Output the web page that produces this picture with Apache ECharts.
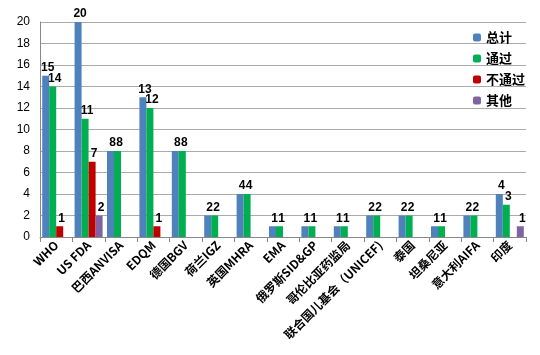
<!DOCTYPE html>
<html><head><meta charset="utf-8">
<script src="https://cdn.jsdelivr.net/npm/echarts@6/dist/echarts.min.js"></script>
<style>html,body{margin:0;padding:0;background:#fff}#c{width:540px;height:355px}</style>
</head><body><div id="c"></div>
<script>
const categories = ['WHO','US FDA','巴西ANVISA','EDQM','德国BGV','荷兰IGZ','英国MHRA','EMA','俄罗斯SID&GP','哥伦比亚药监局','联合国儿基会（UNICEF)','泰国','坦桑尼亚','意大利AIFA','印度'];
const total  = [15,20,8,13,8,2,4,1,1,1,2,2,1,2,4];
const passed = [14,11,8,12,8,2,4,1,1,1,2,2,1,2,3];
const failed = [1,7,0,1,0,0,0,0,0,0,0,0,0,0,0];
const other  = [0,2,0,0,0,0,0,0,0,0,0,0,0,0,1];
const yTicks = {min:0, max:20, interval:2};

const chart = echarts.init(document.getElementById('c'));
const lbl = {show:true, position:'top', distance:2, offset:[2,0], color:'#000', fontWeight:'bold', fontSize:12,
  fontFamily:'Liberation Sans, Arial, sans-serif', formatter:p => p.value === 0 ? '' : p.value};
function s(name, data, color){
  return {name, type:'bar', data, barWidth:7, barGap:'0%', itemStyle:{color}, label:lbl};
}
chart.setOption({
  animation:false,
  grid:{left:40, right:14, top:22, bottom:118},
  legend:{orient:'vertical', right:10, top:26, itemWidth:8, itemHeight:8, itemGap:8,
    textStyle:{fontSize:13, fontWeight:'bold', color:'#000', fontFamily:'Noto Sans CJK SC'},
    data:['总计','通过','不通过','其他']},
  xAxis:{type:'category', data:categories,
    axisLine:{lineStyle:{color:'#888'}}, axisTick:{show:true, lineStyle:{color:'#888'}},
    axisLabel:{interval:0, rotate:45, fontSize:12, fontWeight:'bold', color:'#000', margin:6,
      fontFamily:'Noto Sans CJK SC'}},
  yAxis:{type:'value', min:yTicks.min, max:yTicks.max, interval:yTicks.interval,
    axisLine:{show:true, lineStyle:{color:'#888'}},
    splitLine:{lineStyle:{color:'#aaa'}},
    axisLabel:{fontSize:12, color:'#000', fontFamily:'Liberation Sans, Arial, sans-serif', margin:10}},
  series:[s('总计',total,'#4F81BD'), s('通过',passed,'#00B050'), s('不通过',failed,'#C00000'), s('其他',other,'#8064A2')]
});
</script></body></html>
